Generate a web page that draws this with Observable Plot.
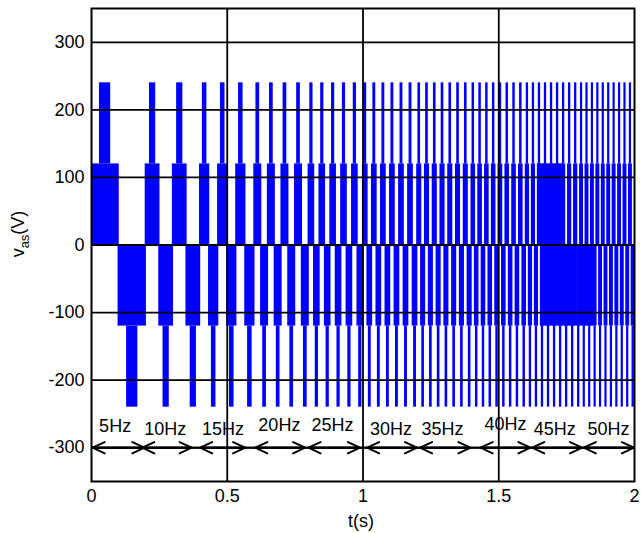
<!DOCTYPE html>
<html>
<head>
<meta charset="utf-8">
<script src="https://cdn.jsdelivr.net/npm/d3@7"></script>
<script src="https://cdn.jsdelivr.net/npm/@observablehq/plot@0.6"></script>
<style>
  body { margin: 0; background: #fff; }
  #chart svg { display: block; }
</style>
</head>
<body>
<div id="chart"></div>
<script>
// ---- data ----
const segFreq = [5, 10, 15, 20, 25, 30, 35, 40, 45, 50];          // Hz per segment
const segEdges = [0, 0.2, 0.4, 0.6, 0.8, 1.0, 1.2, 1.4, 1.6, 1.8, 2.0]; // s
const levelLow = 120;     // V, first voltage step
const levelHigh = 240;    // V, second voltage step
const highPulseFrac = 0.37; // share of each half-cycle spent at the high step
// spans where the switching is so dense it renders as solid blocks
const denseUpper = [[1.645, 1.737]];
const denseLower = [[1.657, 1.786], [1.794, 1.849]];

const yTicks = [-300, -200, -100, 0, 100, 200, 300];
const yTickLabels = ["-300", "-200", "-100", "0", "100", "200", "300"];
const xTicks = [0, 0.5, 1, 1.5, 2];
const xTickLabels = ["0", "0.5", "1", "1.5", "2"];
const xGrid = [0.5, 1, 1.5];

const freqLabels = ["5Hz", "10Hz", "15Hz", "20Hz", "25Hz", "30Hz", "35Hz", "40Hz", "45Hz", "50Hz"];
const labelT = [0.087, 0.272, 0.484, 0.692, 0.888, 1.103, 1.293, 1.525, 1.706, 1.904];
const labelV = [-268, -272, -272, -266, -266, -272, -272, -265, -273, -272];
const arrowV = -300;
const arrowStart = [0.004, 0.187, 0.4, 0.603, 0.799, 1.015, 1.21, 1.433, 1.623, 1.813];
const arrowEnd = [0.195, 0.369, 0.566, 0.787, 0.989, 1.199, 1.396, 1.617, 1.807, 1.998];

// ---- build half-cycle blocks from the segment frequencies ----
const upper = [], lower = [], peakUp = [], peakDown = [];
segFreq.forEach((f, i) => {
  const t0 = segEdges[i], t1 = segEdges[i + 1];
  const n = Math.round((t1 - t0) * 2 * f);
  const half = (t1 - t0) / n;
  for (let k = 0; k < n; k++) {
    const a = t0 + k * half, b = a + half, mid = (a + b) / 2, w = half * highPulseFrac / 2;
    if (k % 2 === 0) { upper.push({x1: a, x2: b}); peakUp.push({x1: mid - w, x2: mid + w}); }
    else { lower.push({x1: a, x2: b}); peakDown.push({x1: mid - w, x2: mid + w}); }
  }
});
denseUpper.forEach(d => upper.push({x1: d[0], x2: d[1]}));
denseLower.forEach(d => lower.push({x1: d[0], x2: d[1]}));

const arrows = arrowStart.map((s, i) => ({s, e: arrowEnd[i]}));
const labels = freqLabels.map((t, i) => ({t, x: labelT[i], y: labelV[i]}));

const blue = "#0000ff";
const font = "'Liberation Sans', Arial, Helvetica, sans-serif";

const chart = Plot.plot({
  width: 643,
  height: 533,
  marginLeft: 91,
  marginRight: 9,
  marginTop: 8,
  marginBottom: 52,
  x: {domain: [0, 2]},
  y: {domain: [-350, 350]},
  style: {fontFamily: font, fontSize: "18px", color: "black", background: "white"},
  marks: [
    Plot.rect(upper, {x1: "x1", x2: "x2", y1: 0, y2: levelLow, fill: blue, insetLeft: -0.6, insetRight: -0.6, clip: true}),
    Plot.rect(lower, {x1: "x1", x2: "x2", y1: 0, y2: -levelLow, fill: blue, insetLeft: -0.6, insetRight: -0.6, clip: true}),
    Plot.rect(peakUp, {x1: "x1", x2: "x2", y1: levelLow, y2: levelHigh, fill: blue, insetLeft: -0.6, insetRight: -0.6, clip: true}),
    Plot.rect(peakDown, {x1: "x1", x2: "x2", y1: -levelLow, y2: -levelHigh, fill: blue, insetLeft: -0.6, insetRight: -0.6, clip: true}),
    Plot.ruleY(yTicks, {stroke: "black", strokeWidth: 1.8}),
    Plot.ruleX(xGrid, {stroke: "black", strokeWidth: 1.8}),
    Plot.ruleY([arrowV], {stroke: "black", strokeWidth: 2}),
    Plot.arrow(arrows, {x1: "s", x2: "e", y1: arrowV, y2: arrowV, stroke: "black", strokeWidth: 2, headLength: 10, headAngle: 50}),
    Plot.arrow(arrows, {x1: "e", x2: "s", y1: arrowV, y2: arrowV, stroke: "black", strokeWidth: 2, headLength: 10, headAngle: 50}),
    Plot.text(labels, {x: "x", y: "y", text: "t", fill: "black", fontSize: 18, textAnchor: "middle", lineAnchor: "middle"}),
    Plot.frame({stroke: "black", strokeWidth: 2}),
    Plot.axisY(yTicks, {tickSize: 0, tickPadding: 7, fontSize: 18, label: null, tickFormat: (d) => yTickLabels[yTicks.indexOf(d)]}),
    Plot.axisX(xTicks, {tickSize: 0, tickPadding: 8, fontSize: 18, label: null, tickFormat: (d) => xTickLabels[xTicks.indexOf(d)]})
  ]
});

document.getElementById("chart").appendChild(chart);

// axis titles (real text, with subscript)
const svg = d3.select(chart);
const yl = svg.append("text")
  .attr("transform", "translate(24,234) rotate(-90)")
  .attr("text-anchor", "middle")
  .attr("font-family", font)
  .attr("font-size", 18)
  .attr("fill", "black");
yl.append("tspan").text("v");
yl.append("tspan").attr("font-size", 13).attr("dy", 5).text("as");
yl.append("tspan").attr("dy", -5).text("(V)");

svg.append("text")
  .attr("x", 361).attr("y", 527)
  .attr("text-anchor", "middle")
  .attr("font-family", font)
  .attr("font-size", 18)
  .attr("fill", "black")
  .text("t(s)");
</script>
</body>
</html>
